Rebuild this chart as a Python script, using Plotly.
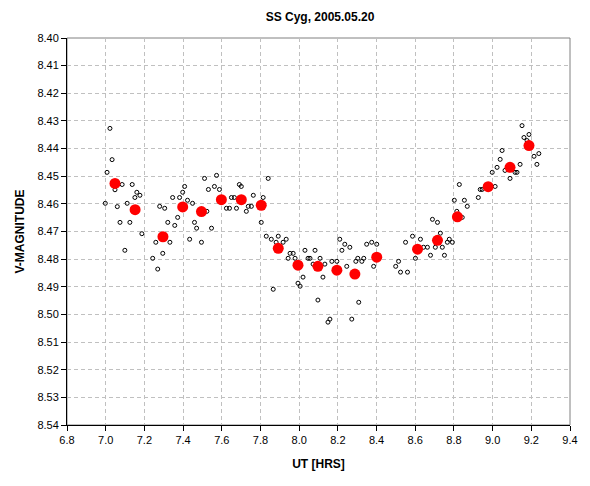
import plotly.graph_objects as go

# Individual observations (UT hours, V magnitude)
obs_ut = [
    7.022, 7.033, 7.007, 7.085, 7.048, 7.137, 6.998, 7.060, 7.111, 7.161,
    7.177, 7.151, 7.074, 7.125, 7.187, 7.099, 7.279, 7.305, 7.259, 7.332,
    7.321, 7.243, 7.295, 7.269, 7.346, 7.382, 7.372, 7.357, 7.408, 7.398,
    7.423, 7.449, 7.434, 7.459, 7.470, 7.495, 7.511, 7.531, 7.523, 7.573,
    7.562, 7.588, 7.691, 7.701, 7.840, 7.650, 7.665, 7.624, 7.640, 7.676,
    7.727, 7.737, 7.753, 7.763, 7.814, 7.547, 7.804, 7.830, 7.856, 7.892,
    7.933, 7.917, 7.881, 7.953, 7.969, 7.943, 7.979, 8.030, 8.082, 8.046,
    8.056, 8.108, 8.072, 8.133, 8.169, 8.195, 8.246, 8.210, 8.236, 8.221,
    8.020, 7.994, 8.005, 8.123, 7.866, 8.097, 8.159, 8.149, 8.262, 8.293,
    8.303, 8.324, 8.334, 8.349, 8.375, 8.401, 8.385, 8.308, 8.272, 8.514,
    8.499, 8.524, 8.560, 8.550, 8.586, 8.627, 8.601, 8.643, 8.663, 8.679,
    8.704, 8.740, 8.751, 8.730, 8.689, 8.715, 8.766, 8.776, 8.792, 8.802,
    8.815, 8.843, 8.828, 8.854, 8.869, 8.926, 8.936, 8.946, 9.013, 8.998,
    9.023, 9.039, 9.049, 9.064, 9.090, 9.116, 9.126, 9.142, 9.152, 9.162,
    9.188, 9.178, 9.214, 9.239, 9.229,
]
obs_mag = [
    8.4327, 8.4440, 8.4486, 8.4530, 8.4549, 8.4530, 8.4598, 8.4610, 8.4598, 8.4558,
    8.4569, 8.4577, 8.4667, 8.4667, 8.4708, 8.4768, 8.4609, 8.4616, 8.4739, 8.4739,
    8.4667, 8.4797, 8.4779, 8.4836, 8.4577, 8.4577, 8.4649, 8.4678, 8.4537, 8.4558,
    8.4587, 8.4598, 8.4728, 8.4667, 8.4688, 8.4739, 8.4508, 8.4548, 8.4627, 8.4497,
    8.4537, 8.4548, 8.4530, 8.4537, 8.4508, 8.4577, 8.4577, 8.4616, 8.4616, 8.4616,
    8.4627, 8.4609, 8.4609, 8.4569, 8.4577, 8.4688, 8.4667, 8.4717, 8.4728, 8.4717,
    8.4728, 8.4739, 8.4739, 8.4779, 8.4779, 8.4797, 8.4797, 8.4768, 8.4768, 8.4797,
    8.4797, 8.4797, 8.4818, 8.4818, 8.4808, 8.4808, 8.4826, 8.4728, 8.4746, 8.4768,
    8.4865, 8.4887, 8.4898, 8.4865, 8.4909, 8.4948, 8.5017, 8.5028, 8.4757, 8.4808,
    8.4797, 8.4808, 8.4797, 8.4746, 8.4739, 8.4746, 8.4826, 8.4956, 8.5017, 8.4808,
    8.4826, 8.4847, 8.4847, 8.4739, 8.4717, 8.4728, 8.4797, 8.4757, 8.4757, 8.4786,
    8.4757, 8.4757, 8.4786, 8.4706, 8.4656, 8.4667, 8.4739, 8.4728, 8.4739, 8.4587,
    8.4627, 8.4649, 8.4530, 8.4587, 8.4609, 8.4577, 8.4548, 8.4548, 8.4537, 8.4486,
    8.4468, 8.4439, 8.4407, 8.4479, 8.4508, 8.4486, 8.4486, 8.4457, 8.4317, 8.4360,
    8.4349, 8.4371, 8.4428, 8.4418, 8.4457,
]

# Binned means
mean_ut = [7.048, 7.152, 7.296, 7.398, 7.495, 7.598, 7.701, 7.804, 7.892, 7.994,
           8.097, 8.195, 8.288, 8.401, 8.612, 8.715, 8.818, 8.977, 9.090, 9.188]
mean_mag = [8.4526, 8.4621, 8.4719, 8.4611, 8.4628, 8.4585, 8.4585, 8.4605, 8.4761, 8.4822,
            8.4826, 8.4840, 8.4854, 8.4793, 8.4764, 8.4732, 8.4647, 8.4538, 8.4468, 8.4389]

x_ticks = [6.8 + 0.2 * i for i in range(14)]
y_ticks = [8.40 + 0.01 * i for i in range(15)]

FONT = "Liberation Sans, Arial, sans-serif"

fig = go.Figure()
fig.add_trace(go.Scatter(
    x=obs_ut, y=obs_mag, mode="markers",
    marker=dict(symbol="circle-open", size=4, color="black", line=dict(width=1, color="black")),
    showlegend=False, hoverinfo="skip",
))
fig.add_trace(go.Scatter(
    x=mean_ut, y=mean_mag, mode="markers",
    marker=dict(symbol="circle", size=11, color="#ff0000", line=dict(width=0)),
    showlegend=False,
))

fig.update_layout(
    width=590, height=486,
    margin=dict(l=67, r=17, t=38, b=61),
    paper_bgcolor="white", plot_bgcolor="white",
    font=dict(family=FONT, size=11, color="black"),
    title=dict(text="<b>SS Cyg, 2005.05.20</b>", x=320 / 590, xanchor="center",
               y=1 - 17 / 486, yanchor="middle", font=dict(size=12, family=FONT)),
    xaxis=dict(
        range=[6.8, 9.4], tickvals=x_ticks, ticktext=[f"{v:.1f}" for v in x_ticks],
        showgrid=True, gridcolor="#c0c0c0", griddash="4px,3px", gridwidth=1,
        showline=True, linecolor="black", linewidth=1,
        ticks="outside", ticklen=5, tickcolor="black",
        zeroline=False,
        title=dict(text="<b>UT [HRS]</b>", font=dict(size=12, family=FONT), standoff=14),
    ),
    yaxis=dict(
        range=[8.54, 8.40], tickvals=y_ticks, ticktext=[f"{v:.2f}" for v in y_ticks],
        showgrid=True, gridcolor="#c0c0c0", griddash="4px,3px", gridwidth=1,
        showline=True, linecolor="black", linewidth=1,
        ticks="outside", ticklen=5, tickcolor="black",
        zeroline=False,
        title=dict(text="<b>V-MAGNITUDE</b>", font=dict(size=12, family=FONT), standoff=10),
    ),
    shapes=[dict(type="rect", xref="paper", yref="paper", x0=0, x1=1, y0=0, y1=1,
                 line=dict(color="#808080", width=1), layer="below")],
)

fig.write_html("out.html")
